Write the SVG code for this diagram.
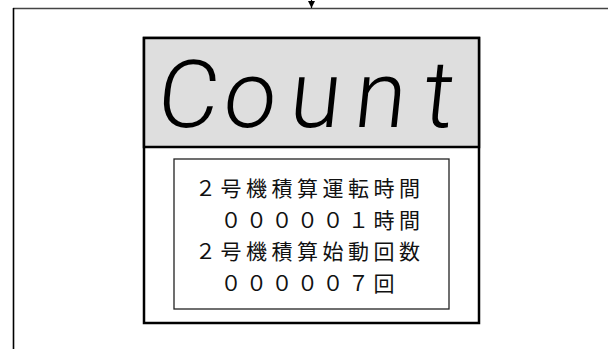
<svg xmlns="http://www.w3.org/2000/svg" width="608" height="349" viewBox="0 0 608 349">
  <style>
    .frame-top { stroke: #444; stroke-width: 1.6; fill: none; }
    .frame-left { stroke: #000; stroke-width: 1.6; fill: none; }
    .panel { fill: #fff; stroke: #000; stroke-width: 2.5; }
    .lcd { fill: #dedede; stroke: #000; stroke-width: 2.5; }
    .divider { stroke: #000; stroke-width: 2.2; }
    .inner { fill: #fff; stroke: #222; stroke-width: 1.3; }
    .seg { font-family: Roboto, "Liberation Sans", "DejaVu Sans", sans-serif; font-weight: 300; font-size: 94px; fill: #000; }
    .jp { font-family: "Noto Sans CJK JP", "Noto Sans CJK SC", sans-serif; font-size: 21px; letter-spacing: 4.5px; fill: #111; }
    .conn { stroke: #000; stroke-width: 1.2; fill: none; }
  </style>
  <defs>
    <marker id="arrow" viewBox="0 0 10 10" refX="10" refY="5" markerWidth="7" markerHeight="7" markerUnits="userSpaceOnUse" orient="auto">
      <path d="M0,0 L10,5 L0,10 Z" fill="#000"/>
    </marker>
  </defs>

  <g id="frame">
    <line class="frame-top" x1="13" y1="8.5" x2="608" y2="8.5"/>
    <line class="frame-left" x1="13.5" y1="8" x2="13.5" y2="349"/>
  </g>

  <g id="connectors">
    <path class="conn" d="M311.5,0 L311.5,8" marker-end="url(#arrow)"/>
  </g>

  <g id="display">
    <rect class="panel" x="144" y="38" width="335" height="285"/>
    <rect class="lcd" x="144" y="38" width="335" height="109"/>
    <line class="divider" x1="144" y1="147" x2="479" y2="147"/>
    <g transform="translate(0,127) skewX(-6)">
      <text class="seg" x="155 221 287 352 421" y="0">Count</text>
    </g>
  </g>

  <g id="counter-info">
    <rect class="inner" x="174" y="159" width="275" height="150"/>
    <text class="jp" x="195" y="196">２号機積算運転時間</text>
    <text class="jp" x="220.5" y="227.5">０００００１時間</text>
    <text class="jp" x="195" y="259">２号機積算始動回数</text>
    <text class="jp" x="220.5" y="290.5">０００００７回</text>
  </g>
</svg>
